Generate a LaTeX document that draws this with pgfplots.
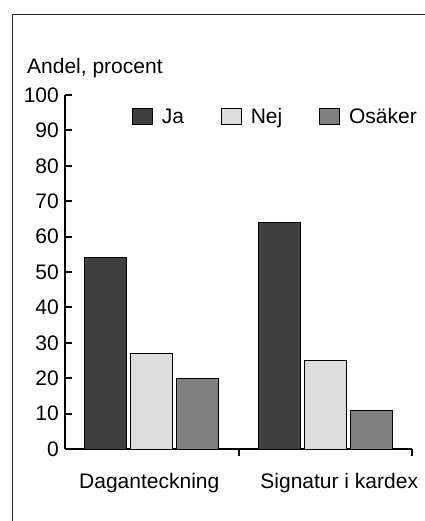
\documentclass[border=0pt]{standalone}
\usepackage{pgfplots}
\pgfplotsset{compat=1.18}
\usepackage{fontspec}
\setmainfont{Liberation Sans}
\definecolor{ja}{HTML}{404040}
\definecolor{nej}{HTML}{DDDDDD}
\definecolor{osa}{HTML}{808080}
\pgfplotsset{mysq/.style={legend image code/.code={\draw[##1, line width=0.8pt] (0pt,-1pt) rectangle (20pt,15pt);}}}
\begin{document}
\fontsize{21pt}{25pt}\selectfont
\begin{tikzpicture}[x=1pt,y=1pt]
\useasboundingbox (0,0) rectangle (424,521);
\draw[line width=1pt, black!85] (12,-2) -- (12,506) -- (426,506);
\node[anchor=base west, inner sep=0pt] at (27,447) {Andel, procent};
\begin{axis}[
  at={(65pt,72pt)}, anchor=south west,
  scale only axis, width=347pt, height=354pt,
  xmin=0, xmax=2, ymin=0, ymax=100,
  axis x line*=bottom, axis y line*=left,
  axis line style={line width=2pt, black},
  ytick={0,10,...,100},
  tick align=inside, major tick length=7pt,
  tick style={line width=2pt, black},
  xtick={1,2}, xticklabels={},
  extra x ticks={0.5,1.5},
  extra x tick labels={Daganteckning\hspace*{5pt},\hspace*{28pt}Signatur i kardex},
  extra x tick style={major tick length=0pt, tick style={draw=none}, xticklabel style={anchor=base, yshift=-39pt}},
  yticklabel style={inner sep=0pt, xshift=-6pt},
  /pgf/number format/assume math mode=true,
  ybar, bar width=42pt,
  legend columns=3,
  legend cell align=left,
  legend style={at={(0.193,0.963)}, anchor=north west, draw=none, fill=none,
    inner sep=0pt, outer sep=0pt, nodes={inner sep=0pt, anchor=base west},
    /tikz/every odd column/.append style={column sep=9pt},
    /tikz/every even column/.append style={column sep=37pt}},
]
\addplot[fill=ja, draw=black, line width=0.8pt, bar shift=-46pt, mysq] coordinates {(0.5,54) (1.5,64)};
\addplot[fill=nej, draw=black, line width=0.8pt, bar shift=0pt, mysq] coordinates {(0.5,27) (1.5,25)};
\addplot[fill=osa, draw=black, line width=0.8pt, bar shift=46pt, mysq] coordinates {(0.5,20) (1.5,11)};
\legend{Ja,Nej,Osäker}
\end{axis}
\end{tikzpicture}
\end{document}
